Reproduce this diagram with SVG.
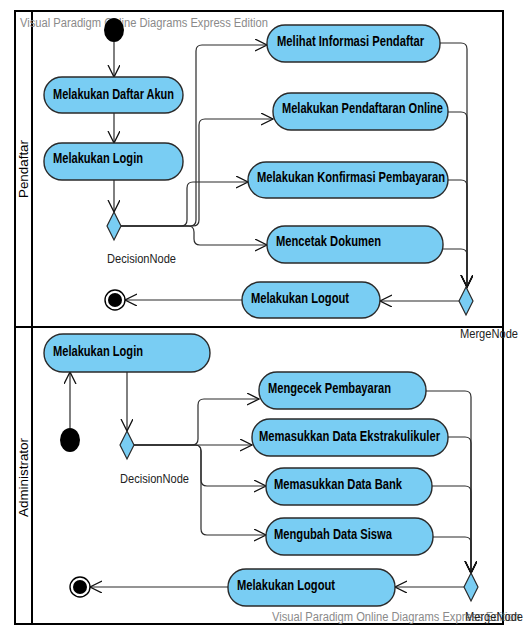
<svg xmlns="http://www.w3.org/2000/svg" width="525" height="626" viewBox="0 0 525 626">
<style>
.act{fill:#79cdf3;stroke:#2a2a2a;stroke-width:1.4}
.lbl{font-family:"Liberation Sans",Arial,sans-serif;font-weight:bold;font-size:14px;fill:#000}
.note{font-family:"Liberation Sans",Arial,sans-serif;font-size:12.5px;fill:#222}
.wm{font-family:"Liberation Sans",Arial,sans-serif;font-size:12.5px;fill:#8a8a8a}
.lane{font-family:"Liberation Sans",Arial,sans-serif;font-size:13px;fill:#000}
.flow{fill:none;stroke:#2a2a2a;stroke-width:1.2;marker-end:url(#arr)}
.dia{fill:#79cdf3;stroke:#2a2a2a;stroke-width:1.2}
</style>
<defs>
<marker id="arr" markerUnits="userSpaceOnUse" markerWidth="14" markerHeight="14" refX="12" refY="6" orient="auto">
<path d="M0,0 L12,6 L0,12" fill="none" stroke="#111" stroke-width="1.3"/>
</marker>
</defs>
<rect x="0" y="0" width="525" height="626" fill="#fff"/>
<g id="frame">
<rect x="15" y="11" width="488" height="613" fill="none" stroke="#000" stroke-width="2"/>
<line x1="32" y1="11" x2="32" y2="624" stroke="#000" stroke-width="2"/>
<line x1="15" y1="327" x2="503" y2="327" stroke="#000" stroke-width="2"/>
<text class="lane" transform="translate(28,198) rotate(-90)" textLength="58" lengthAdjust="spacingAndGlyphs">Pendaftar</text>
<text class="lane" transform="translate(28,517) rotate(-90)" textLength="79" lengthAdjust="spacingAndGlyphs">Administrator</text>
</g>
<text class="wm" x="20" y="27" textLength="248" lengthAdjust="spacingAndGlyphs">Visual Paradigm Online Diagrams Express Edition</text>
<g id="connectors">
<path class="flow" d="M114,42 V77"/>
<path class="flow" d="M114,113 V143"/>
<path class="flow" d="M114,180 V212"/>
<path class="flow" d="M121,226 H190 Q196,226 196,220 V51 Q196,45 202,45 H267"/>
<path class="flow" d="M121,226 H193 Q199,226 199,220 V125 Q199,119 205,119 H273"/>
<path class="flow" d="M121,226 H181 Q187,226 187,220 V188 Q187,182 193,182 H248"/>
<path class="flow" d="M121,226 H188 Q194,226 194,232 V239 Q194,245 200,245 H267"/>
<path class="flow" d="M440,43 H461 Q467,43 467,49 V287"/>
<path class="flow" d="M448,112 H461 Q467,112 467,118 V287"/>
<path class="flow" d="M448,180 H461 Q467,180 467,186 V287"/>
<path class="flow" d="M443,249 H461 Q467,249 467,255 V287"/>
<path class="flow" d="M459,301 H380"/>
<path class="flow" d="M242,300 H125"/>
<path class="flow" d="M70,428 V372"/>
<path class="flow" d="M127,372 V431"/>
<path class="flow" d="M134,445 H192 Q198,445 198,439 V405 Q198,399 204,399 H259"/>
<path class="flow" d="M134,445 H252"/>
<path class="flow" d="M134,445 H195 Q201,445 201,451 V480 Q201,486 207,486 H266"/>
<path class="flow" d="M134,445 H195 Q201,445 201,451 V529 Q201,535 207,535 H266"/>
<path class="flow" d="M426,391 H465 Q471,391 471,397 V573"/>
<path class="flow" d="M448,437 H465 Q471,437 471,443 V573"/>
<path class="flow" d="M432,486 H465 Q471,486 471,492 V573"/>
<path class="flow" d="M433,537 H465 Q471,537 471,543 V573"/>
<path class="flow" d="M464,587 H395"/>
<path class="flow" d="M228,587 H90"/>
</g>
<g id="p-initial"><ellipse cx="114" cy="30" rx="10" ry="12" fill="#000"/></g>
<g id="p-daftar"><rect class="act" x="44" y="77" width="139" height="36" rx="18"/><text class="lbl" x="53" y="99" textLength="121" lengthAdjust="spacingAndGlyphs">Melakukan Daftar Akun</text></g>
<g id="p-login"><rect class="act" x="44" y="143" width="139" height="37" rx="18"/><text class="lbl" x="53" y="163" textLength="90" lengthAdjust="spacingAndGlyphs">Melakukan Login</text></g>
<g id="p-decision"><polygon class="dia" points="114,212 121,226 114,240 107,226"/><text class="note" x="107" y="263" textLength="69" lengthAdjust="spacingAndGlyphs">DecisionNode</text></g>
<g id="p-melihat"><rect class="act" x="267" y="25" width="173" height="37" rx="18"/><text class="lbl" x="277" y="46" textLength="147" lengthAdjust="spacingAndGlyphs">Melihat Informasi Pendaftar</text></g>
<g id="p-online"><rect class="act" x="273" y="93" width="175" height="37" rx="18"/><text class="lbl" x="282" y="113" textLength="161" lengthAdjust="spacingAndGlyphs">Melakukan Pendaftaran Online</text></g>
<g id="p-konfirmasi"><rect class="act" x="248" y="162" width="200" height="36" rx="18"/><text class="lbl" x="257" y="182" textLength="188" lengthAdjust="spacingAndGlyphs">Melakukan Konfirmasi Pembayaran</text></g>
<g id="p-cetak"><rect class="act" x="267" y="226" width="176" height="37" rx="18"/><text class="lbl" x="276" y="246" textLength="105" lengthAdjust="spacingAndGlyphs">Mencetak Dokumen</text></g>
<g id="p-merge"><polygon class="dia" points="466,287 473,301 466,315 459,301"/><text class="note" x="460" y="338" textLength="58" lengthAdjust="spacingAndGlyphs">MergeNode</text></g>
<g id="p-logout"><rect class="act" x="242" y="282" width="138" height="36" rx="18"/><text class="lbl" x="251" y="303" textLength="98" lengthAdjust="spacingAndGlyphs">Melakukan Logout</text></g>
<g id="p-final"><circle cx="115" cy="300" r="10" fill="#fff" stroke="#000" stroke-width="1.4"/><circle cx="115" cy="300" r="7" fill="#000"/></g>
<g id="a-login"><rect class="act" x="44" y="334" width="166" height="38" rx="19"/><text class="lbl" x="53" y="356" textLength="90" lengthAdjust="spacingAndGlyphs">Melakukan Login</text></g>
<g id="a-initial"><ellipse cx="70" cy="440" rx="10" ry="12" fill="#000"/></g>
<g id="a-decision"><polygon class="dia" points="127,431 134,445 127,459 120,445"/><text class="note" x="120" y="483" textLength="69" lengthAdjust="spacingAndGlyphs">DecisionNode</text></g>
<g id="a-cek"><rect class="act" x="259" y="372" width="167" height="37" rx="18"/><text class="lbl" x="268" y="393" textLength="123" lengthAdjust="spacingAndGlyphs">Mengecek Pembayaran</text></g>
<g id="a-ekstra"><rect class="act" x="252" y="419" width="196" height="37" rx="18"/><text class="lbl" x="259" y="441" textLength="181" lengthAdjust="spacingAndGlyphs">Memasukkan Data Ekstrakulikuler</text></g>
<g id="a-bank"><rect class="act" x="266" y="468" width="166" height="37" rx="18"/><text class="lbl" x="274" y="489" textLength="128" lengthAdjust="spacingAndGlyphs">Memasukkan Data Bank</text></g>
<g id="a-siswa"><rect class="act" x="266" y="518" width="167" height="37" rx="18"/><text class="lbl" x="274" y="539" textLength="118" lengthAdjust="spacingAndGlyphs">Mengubah Data Siswa</text></g>
<g id="a-merge"><polygon class="dia" points="471,573 478,587 471,601 464,587"/></g>
<g id="a-logout"><rect class="act" x="228" y="569" width="167" height="37" rx="18"/><text class="lbl" x="237" y="590" textLength="98" lengthAdjust="spacingAndGlyphs">Melakukan Logout</text></g>
<g id="a-final"><circle cx="80" cy="587" r="10" fill="#fff" stroke="#000" stroke-width="1.4"/><circle cx="80" cy="587" r="7" fill="#000"/></g>
<text class="wm" x="272" y="621" textLength="248" lengthAdjust="spacingAndGlyphs">Visual Paradigm Online Diagrams Express Edition</text>
<text class="note" x="465" y="621" textLength="58" lengthAdjust="spacingAndGlyphs">MergeNode</text>
</svg>
